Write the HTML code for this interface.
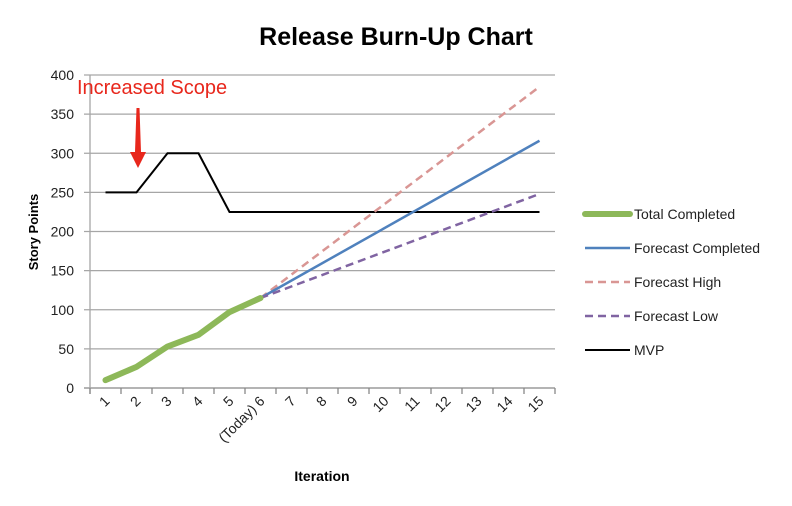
<!DOCTYPE html>
<html><head><style>
html,body{margin:0;padding:0;background:#fff;}
svg{display:block;font-family:"Liberation Sans",sans-serif;}
</style></head><body>
<svg id="s" width="792" height="506" xmlns="http://www.w3.org/2000/svg">
<text x="396" y="45" text-anchor="middle" font-size="25" font-weight="bold" fill="#000">Release Burn-Up Chart</text>
<g id="grid"></g>
<text transform="translate(38,232) rotate(-90)" text-anchor="middle" font-size="13" font-weight="bold">Story Points</text>
<text x="322" y="481" text-anchor="middle" font-size="14" font-weight="bold">Iteration</text>
<text x="77" y="94" font-size="20" fill="#e8271c">Increased Scope</text>
<path d="M136.5,108 L139.5,108 L141,152 L146,152 L138,168 L130,152 L135,152 Z" fill="#e8271c"/>
<g id="series"></g>
<g font-size="14" fill="#222">
<line x1="585" y1="214" x2="630" y2="214" stroke="#8db859" stroke-width="6" stroke-linecap="round"/>
<text x="634" y="219">Total Completed</text>
<line x1="585" y1="248" x2="630" y2="248" stroke="#4f81bd" stroke-width="2.5"/>
<text x="634" y="253">Forecast Completed</text>
<line x1="585" y1="282" x2="630" y2="282" stroke="#d99694" stroke-width="2.5" stroke-dasharray="8,5"/>
<text x="634" y="287">Forecast High</text>
<line x1="585" y1="316" x2="630" y2="316" stroke="#8064a2" stroke-width="2.5" stroke-dasharray="8,5"/>
<text x="634" y="321">Forecast Low</text>
<line x1="585" y1="350" x2="630" y2="350" stroke="#000" stroke-width="2"/>
<text x="634" y="355">MVP</text>
</g>
</svg>
<script>
var NS="http://www.w3.org/2000/svg";
function X(i){return 74.5+31*i;}
function Y(v){return 388-v*0.7825;}
function el(p,t,a,txt){var e=document.createElementNS(NS,t);for(var k in a)e.setAttribute(k,a[k]);if(txt)e.textContent=txt;p.appendChild(e);return e;}
var g=document.getElementById("grid");
for(var v=0;v<=400;v+=50){
 el(g,"line",{x1:84,x2:555,y1:Y(v),y2:Y(v),stroke:v?"#a6a6a6":"#888","stroke-width":1.3});
 el(g,"text",{x:74,y:Y(v)+5,"text-anchor":"end","font-size":14,fill:"#222"},String(v));
}
el(g,"line",{x1:90,x2:90,y1:Y(400),y2:394,stroke:"#a6a6a6","stroke-width":1.3});
for(var i=1;i<=16;i++){var x=90+31*(i-1);el(g,"line",{x1:x,x2:x,y1:388,y2:394,stroke:"#888","stroke-width":1.3});}
for(var i=1;i<=15;i++){
 var lab=i==6?"(Today) 6":String(i);
 el(g,"text",{transform:"translate("+(X(i)+5)+",402) rotate(-45)","text-anchor":"end","font-size":14,fill:"#222"},lab);
}
var s=document.getElementById("series");
function pl(pts,a){a.points=pts.map(function(p){return X(p[0])+","+Y(p[1]);}).join(" ");a.fill="none";el(s,"polyline",a);}
pl([[1,250],[2,250],[3,300],[4,300],[5,225],[15,225]],{stroke:"#000","stroke-width":2});
pl([[6,115],[15,385]],{stroke:"#d99694","stroke-width":2.5,"stroke-dasharray":"8,5"});
pl([[6,115],[15,316]],{stroke:"#4f81bd","stroke-width":2.5});
pl([[6,115],[15,248]],{stroke:"#8064a2","stroke-width":2.5,"stroke-dasharray":"8,5"});
pl([[1,10],[2,27],[3,53],[4,68],[5,97],[6,115]],{stroke:"#8db859","stroke-width":6,"stroke-linecap":"round","stroke-linejoin":"round"});
</script>
</body></html>
